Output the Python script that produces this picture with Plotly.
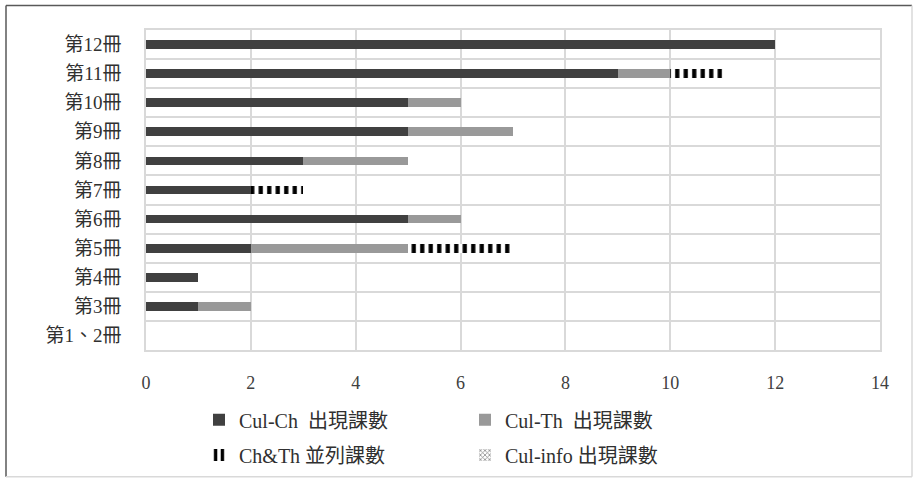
import plotly.graph_objects as go

volumes = ["第12冊", "第11冊", "第10冊", "第9冊", "第8冊", "第7冊",
           "第6冊", "第5冊", "第4冊", "第3冊", "第1、2冊"]
cul_ch = [12, 9, 5, 5, 3, 2, 5, 2, 1, 1, 0]
cul_th = [0, 1, 1, 2, 2, 0, 1, 3, 0, 1, 0]
ch_th = [0, 1, 0, 0, 0, 1, 0, 2, 0, 0, 0]
cul_info = [0, 0, 0, 0, 0, 0, 0, 0, 0, 0, 0]
x_ticks = [0, 2, 4, 6, 8, 10, 12, 14]

FONT = "Liberation Serif, Noto Sans CJK TC, serif"
W, H = 918, 487
L, R, T, B = 146, 38, 30, 131
pw, ph = W - L - R, H - T - B

def px(x):
    return (x - L) / pw

def py(y):
    return (H - B - y) / ph

fig = go.Figure()
fig.add_trace(go.Bar(
    y=volumes, x=cul_ch, orientation="h", name="Cul-Ch  出現課數",
    marker=dict(color="#404040", line=dict(width=0)), legend="legend"))
fig.add_trace(go.Bar(
    y=volumes, x=cul_th, orientation="h", name="Cul-Th  出現課數",
    marker=dict(color="#999999", line=dict(width=0)), legend="legend"))
fig.add_trace(go.Bar(
    y=volumes, x=ch_th, orientation="h", name="Ch&Th 並列課數",
    marker=dict(color="white", line=dict(width=0),
                pattern=dict(shape="|", fgcolor="black", bgcolor="white",
                             size=8.5, solidity=0.5, fillmode="replace")),
    legend="legend2"))
fig.add_trace(go.Bar(
    y=volumes, x=cul_info, orientation="h", name="Cul-info 出現課數",
    marker=dict(color="white", line=dict(width=0),
                pattern=dict(shape="x", fgcolor="#808080", bgcolor="white",
                             size=4, solidity=0.4, fillmode="replace")),
    legend="legend2"))

legend_common = dict(orientation="h", xanchor="left", yanchor="middle",
                     font=dict(family=FONT, size=20, color="#303030"),
                     entrywidth=221, entrywidthmode="pixels",
                     bgcolor="rgba(0,0,0,0)", borderwidth=0,
                     traceorder="normal")

fig.update_layout(
    width=W, height=H,
    margin=dict(l=L, r=R, t=T, b=B),
    paper_bgcolor="white", plot_bgcolor="white",
    barmode="stack", bargap=0.70,
    font=dict(family=FONT, size=19, color="#404040"),
    legend=dict(x=px(199), y=py(427), **legend_common),
    legend2=dict(x=px(199), y=py(463), **legend_common),
    xaxis=dict(range=[0, 14], tickvals=x_ticks, showgrid=True,
               gridcolor="#d9d9d9", gridwidth=1.5, zeroline=False,
               showline=True, linecolor="#d9d9d9", linewidth=1.5, mirror=True,
               tickfont=dict(family=FONT, size=18, color="#404040"),
               ticks="", ticklabelstandoff=16),
    yaxis=dict(type="category", autorange="reversed", tickson="boundaries",
               showgrid=True, gridcolor="#d9d9d9", gridwidth=1.5,
               showline=True, linecolor="#d9d9d9", linewidth=1.5, mirror=True,
               ticks="", ticklabelstandoff=19,
               tickfont=dict(family=FONT, size=19, color="#303030")),
    shapes=[
        dict(type="line", xref="paper", yref="paper", x0=px(6), x1=px(6),
             y0=py(5), y1=py(485), line=dict(color="#595959", width=1.5)),
        dict(type="line", xref="paper", yref="paper", x0=px(6), x1=px(912),
             y0=py(5), y1=py(5), line=dict(color="#595959", width=1.5)),
        dict(type="line", xref="paper", yref="paper", x0=px(912), x1=px(912),
             y0=py(5), y1=py(485), line=dict(color="#d9d9d9", width=1.5)),
        dict(type="line", xref="paper", yref="paper", x0=px(6), x1=px(912),
             y0=py(485), y1=py(485), line=dict(color="#d9d9d9", width=1.5)),
    ],
)

fig.write_html("out.html",
               config={"displayModeBar": False},
               post_script="document.body.style.margin='0';"
                           "document.body.style.overflow='hidden';")
